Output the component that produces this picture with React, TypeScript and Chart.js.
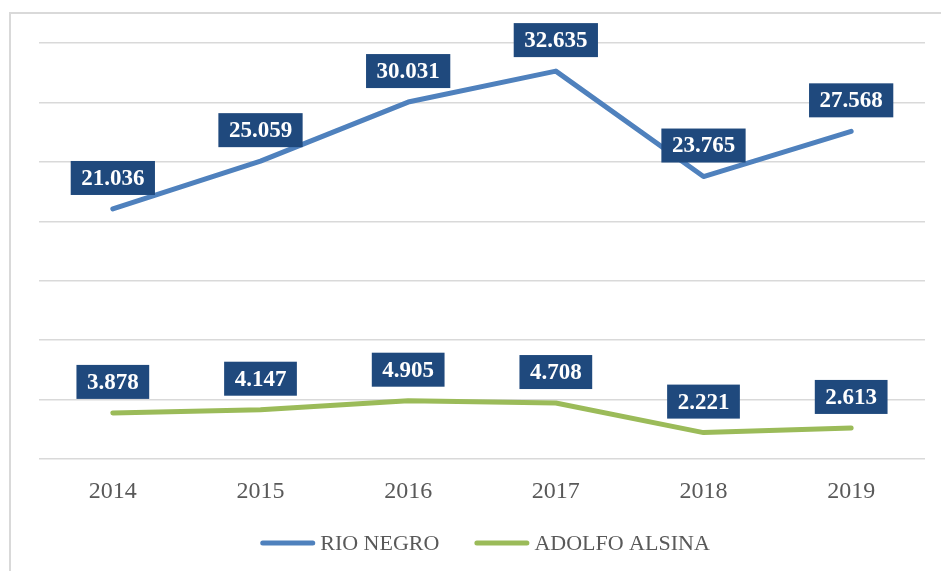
import React, { useEffect, useRef } from "react";
import { Chart, registerables } from "chart.js";
Chart.register(...registerables);

const categories = ["2014", "2015", "2016", "2017", "2018", "2019"];
const rioNegro = [21036, 25059, 30031, 32635, 23765, 27568];
const adolfoAlsina = [3878, 4147, 4905, 4708, 2221, 2613];
const seriesNames = ["RIO NEGRO", "ADOLFO ALSINA"];
const seriesColors = ["#4f81bd", "#9bbb59"];
const yMin = 0;
const yMax = 35000;
const yStep = 5000;

const FONT = "'Liberation Serif', 'Times New Roman', serif";

function fmt(v: number): string {
  return String(v).replace(/\B(?=(\d{3})+(?!\d))/g, ".");
}

const framePlugin = {
  id: "frame",
  beforeDraw(chart: any) {
    const ctx = chart.ctx;
    ctx.save();
    ctx.fillStyle = "#ffffff";
    ctx.fillRect(0, 0, chart.width, chart.height);
    ctx.strokeStyle = "#d9d9d9";
    ctx.lineWidth = 2;
    ctx.beginPath();
    ctx.moveTo(10, chart.height);
    ctx.lineTo(10, 13);
    ctx.lineTo(chart.width, 13);
    ctx.stroke();
    ctx.restore();
  },
};

const labelPlugin = {
  id: "boxLabels",
  afterDatasetsDraw(chart: any) {
    const ctx = chart.ctx;
    ctx.save();
    ctx.font = `bold 23px ${FONT}`;
    ctx.textAlign = "center";
    ctx.textBaseline = "middle";
    chart.data.datasets.forEach((ds: any, i: number) => {
      const meta = chart.getDatasetMeta(i);
      meta.data.forEach((pt: any, j: number) => {
        const text = fmt(ds.data[j]);
        const w = ctx.measureText(text).width + 21;
        const h = 34;
        const cx = pt.x;
        const cy = pt.y - 14 - h / 2;
        ctx.fillStyle = "#1f497d";
        ctx.fillRect(cx - w / 2, cy - h / 2, w, h);
        ctx.fillStyle = "#ffffff";
        ctx.fillText(text, cx, cy + 1);
      });
    });
    ctx.restore();
  },
};

const legendPlugin = {
  id: "customLegend",
  afterDraw(chart: any) {
    const ctx = chart.ctx;
    const lineLen = 55;
    const gap = 5;
    const itemGap = 35;
    ctx.save();
    ctx.font = `22px ${FONT}`;
    ctx.textBaseline = "middle";
    ctx.textAlign = "left";
    const items = chart.data.datasets.map((ds: any) => ({
      text: ds.label,
      color: ds.borderColor,
      w: ctx.measureText(ds.label).width,
    }));
    let total = 0;
    items.forEach((it: any, i: number) => {
      total += lineLen + gap + it.w + (i < items.length - 1 ? itemGap : 0);
    });
    const center = (chart.chartArea.left + chart.chartArea.right) / 2 + 3;
    let x = center - total / 2;
    const y = chart.height - 28;
    items.forEach((it: any) => {
      ctx.strokeStyle = it.color;
      ctx.lineWidth = 5;
      ctx.lineCap = "round";
      ctx.beginPath();
      ctx.moveTo(x + 2.5, y);
      ctx.lineTo(x + lineLen - 2.5, y);
      ctx.stroke();
      ctx.fillStyle = "#595959";
      ctx.fillText(it.text, x + lineLen + gap, y + 1);
      x += lineLen + gap + it.w + itemGap;
    });
    ctx.restore();
  },
};

export default function App() {
  const ref = useRef<HTMLCanvasElement | null>(null);
  useEffect(() => {
    document.body.style.margin = "0";
    const canvas = ref.current;
    if (!canvas) return;
    const chart = new Chart(canvas, {
      type: "line",
      data: {
        labels: categories,
        datasets: [
          {
            label: seriesNames[0],
            data: rioNegro,
            borderColor: seriesColors[0],
            backgroundColor: seriesColors[0],
            borderWidth: 5,
            borderCapStyle: "round",
            borderJoinStyle: "round",
            pointRadius: 0,
            tension: 0,
          },
          {
            label: seriesNames[1],
            data: adolfoAlsina,
            borderColor: seriesColors[1],
            backgroundColor: seriesColors[1],
            borderWidth: 5,
            borderCapStyle: "round",
            borderJoinStyle: "round",
            pointRadius: 0,
            tension: 0,
          },
        ],
      },
      options: {
        animation: false,
        responsive: false,
        layout: { padding: { left: 39, right: 16, top: 43, bottom: 50 } },
        scales: {
          x: {
            offset: true,
            grid: { display: false, drawTicks: false },
            border: { display: false },
            ticks: {
              color: "#595959",
              font: { family: FONT, size: 24 },
              padding: 18,
            },
            afterFit(scale: any) {
              scale.height = 62;
            },
          },
          y: {
            min: yMin,
            max: yMax,
            ticks: { stepSize: yStep, display: false },
            grid: { color: "#d9d9d9", lineWidth: 1.5, drawTicks: false },
            border: { display: false },
            afterFit(scale: any) {
              scale.width = 0;
            },
          },
        },
        plugins: {
          legend: { display: false },
          tooltip: { enabled: false },
        },
      },
      plugins: [framePlugin, labelPlugin, legendPlugin],
    });
    return () => chart.destroy();
  }, []);
  return <canvas ref={ref} width={941} height={571} style={{ display: "block" }} />;
}
